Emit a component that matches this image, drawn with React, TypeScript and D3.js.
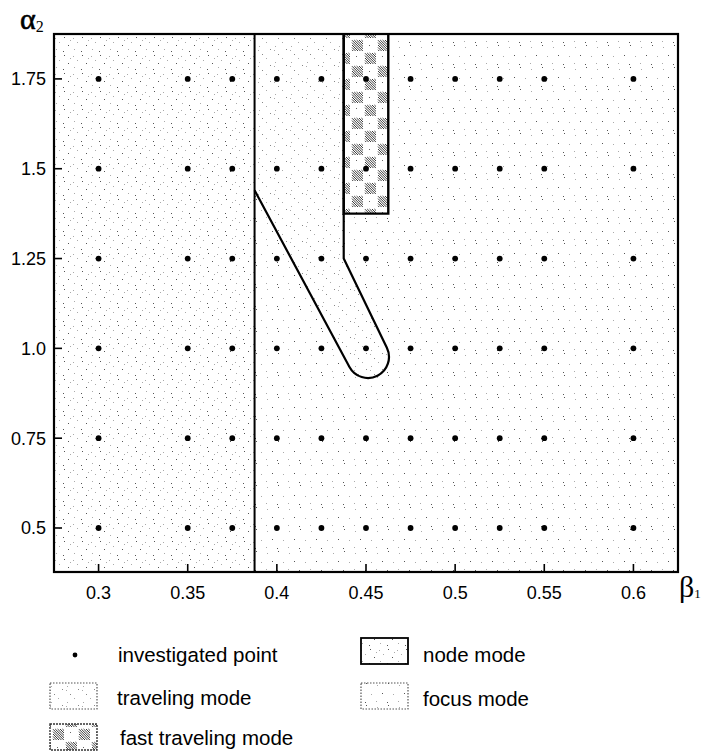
import * as d3 from "d3";

// investigated grid (beta1 columns, alpha2 rows)
const betaValues = [0.3, 0.35, 0.375, 0.4, 0.425, 0.45, 0.475, 0.5, 0.525, 0.55, 0.6];
const alphaValues = [0.5, 0.75, 1.0, 1.25, 1.5, 1.75];

const xTicks = [0.3, 0.35, 0.4, 0.45, 0.5, 0.55, 0.6];
const xTickLabels = ["0.3", "0.35", "0.4", "0.45", "0.5", "0.55", "0.6"];
const yTicks = [0.5, 0.75, 1.0, 1.25, 1.5, 1.75];
const yTickLabels = ["0.5", "0.75", "1.0", "1.25", "1.5", "1.75"];

// region boundaries (data units)
const nodeBoundaryBeta = 0.3875;
const travelRightBeta = 0.4375;
const travelCornerAlpha = 1.25;
const travelLeftAlpha = 1.44;
const capsuleCenter = [0.4511, 0.976];
const fastBeta = [0.4375, 0.4625];
const fastAlphaMin = 1.375;

const legendLeft = ["investigated point", "traveling mode", "fast traveling mode"];
const legendRight = ["node mode", "focus mode"];

// stipple textures (offsets inside a pattern tile)
const nodeDots = [[1, 2], [10, 1], [5, 6], [14, 9], [2, 13], [9, 15], [16, 4]];
const focusDots = [[3, 3], [14, 1], [19, 12], [8, 11], [2, 19], [13, 20]];
const travelDots = [[2, 2], [6, 6], [10, 10], [14, 1], [3, 14]];

const fontSans = "'Liberation Sans', Arial, sans-serif";
const fontSerif = "'Liberation Serif', 'Times New Roman', serif";

export default function App() {
  const x = d3.scaleLinear().domain([0.275, 0.625]).range([54, 678]);
  const y = d3.scaleLinear().domain([0.3775, 1.875]).range([572, 34]);
  const [x0, x1] = x.range();
  const [y0, y1] = y.range(); // bottom, top

  const r = 21;
  const P0 = [x(nodeBoundaryBeta), y(travelLeftAlpha)];
  const P1 = [x(travelRightBeta), y(travelCornerAlpha)];
  const C = [x(capsuleCenter[0]), y(capsuleCenter[1])];
  const tangent = (P: number[], sign: number) => {
    const vx = C[0] - P[0], vy = C[1] - P[1];
    const D = Math.hypot(vx, vy);
    const a = Math.atan2(vy, vx) + sign * Math.asin(r / D);
    const L = Math.sqrt(D * D - r * r);
    return [P[0] + L * Math.cos(a), P[1] + L * Math.sin(a)];
  };
  const TL = tangent(P0, 1);
  const TR = tangent(P1, -1);
  const angL = Math.atan2(TL[1] - C[1], TL[0] - C[0]);
  const angR = Math.atan2(TR[1] - C[1], TR[0] - C[0]);

  const outline = d3.path();
  outline.moveTo(P0[0], P0[1]);
  outline.lineTo(TL[0], TL[1]);
  outline.arc(C[0], C[1], r, angL, angR, true);
  outline.lineTo(P1[0], P1[1]);
  outline.lineTo(P1[0], y1);

  const travelArea = d3.path();
  travelArea.moveTo(x(nodeBoundaryBeta), y1);
  travelArea.lineTo(P1[0], y1);
  travelArea.lineTo(P1[0], P1[1]);
  travelArea.lineTo(TR[0], TR[1]);
  travelArea.arc(C[0], C[1], r, angR, angL, false);
  travelArea.lineTo(P0[0], P0[1]);
  travelArea.closePath();

  const points = alphaValues.flatMap((a) => betaValues.map((b) => [b, a]));

  const fx0 = x(fastBeta[0]), fx1 = x(fastBeta[1]), fy = y(fastAlphaMin);

  const dotPattern = (id: string, size: number, dots: number[][], fill: string) => (
    <pattern id={id} width={size} height={size} patternUnits="userSpaceOnUse">
      <rect width={size} height={size} fill="#fff" />
      {dots.map((d, i) => (
        <rect key={i} x={d[0]} y={d[1]} width={1} height={1} fill={i % 2 === 0 ? "#aaa" : fill} />
      ))}
    </pattern>
  );

  const hatchBlock = (ox: number, oy: number, s: number, key: string) => (
    <g key={key}>
      {d3.range(-s + 1.2, s, 2.4).map((k) => (
        <line
          key={k}
          x1={ox + Math.max(0, k)}
          y1={oy + Math.max(0, -k)}
          x2={ox + Math.min(s, s + k)}
          y2={oy + Math.min(s, s - k)}
          stroke="#222"
          strokeWidth={0.9}
        />
      ))}
    </g>
  );

  const legendBox = { w: 47, h: 26 };

  return (
    <svg
      width={702}
      height={756}
      style={{ position: "absolute", left: 0, top: 0, background: "#fff" }}
    >
      <defs>
        {dotPattern("node", 18, nodeDots, "#555")}
        {dotPattern("focus", 22, focusDots, "#555")}
        {dotPattern("travel", 16, travelDots, "#888")}
        <pattern id="fast" width={26} height={26} patternUnits="userSpaceOnUse">
          <rect width={26} height={26} fill="#fff" />
          {hatchBlock(1, 1, 11, "a")}
          {hatchBlock(14, 14, 11, "b")}
          <rect x={18} y={4} width={1} height={1} fill="#666" />
          <rect x={5} y={19} width={1} height={1} fill="#666" />
        </pattern>
      </defs>

      {/* regions */}
      <rect x={x0} y={y1} width={x(nodeBoundaryBeta) - x0} height={y0 - y1} fill="url(#node)" />
      <rect x={x(nodeBoundaryBeta)} y={y1} width={x1 - x(nodeBoundaryBeta)} height={y0 - y1} fill="url(#focus)" />
      <path d={travelArea.toString()} fill="url(#travel)" />
      <rect x={fx0} y={y1} width={fx1 - fx0} height={fy - y1} fill="url(#fast)" />

      {/* boundaries */}
      <line x1={x(nodeBoundaryBeta)} x2={x(nodeBoundaryBeta)} y1={y1} y2={y0} stroke="#000" strokeWidth={2} />
      <path d={outline.toString()} fill="none" stroke="#000" strokeWidth={2.2} />
      <path
        d={`M${fx0},${y1}V${fy}H${fx1}V${y1}`}
        fill="none"
        stroke="#000"
        strokeWidth={2.4}
      />

      {/* frame */}
      <rect x={x0} y={y1} width={x1 - x0} height={y0 - y1} fill="none" stroke="#000" strokeWidth={2.2} />

      {/* ticks */}
      {xTicks.map((t, i) => (
        <g key={"x" + i}>
          <line x1={x(t)} x2={x(t)} y1={y0} y2={y0 - 8} stroke="#000" strokeWidth={1.6} />
          <text x={x(t)} y={599} textAnchor="middle" fontFamily={fontSans} fontSize={18}>
            {xTickLabels[i]}
          </text>
        </g>
      ))}
      {yTicks.map((t, i) => (
        <g key={"y" + i}>
          <line x1={x0} x2={x0 + 8} y1={y(t)} y2={y(t)} stroke="#000" strokeWidth={1.6} />
          <text x={46} y={y(t) + 6.5} textAnchor="end" fontFamily={fontSans} fontSize={18}>
            {yTickLabels[i]}
          </text>
        </g>
      ))}

      {/* axis titles */}
      <text x={20} y={29} fontFamily={fontSerif} fontSize={30} stroke="#000" strokeWidth={0.6}>
        α<tspan fontSize={16} dy={3} strokeWidth={0}>2</tspan>
      </text>
      <text x={679} y={597} fontFamily={fontSerif} fontSize={30}>
        β<tspan fontSize={13} dy={1}>1</tspan>
      </text>

      {/* investigated points */}
      {points.map((p, i) => (
        <circle key={i} cx={x(p[0])} cy={y(p[1])} r={2.9} fill="#000" />
      ))}

      {/* legend */}
      <circle cx={75} cy={655} r={2.4} fill="#000" />
      <text x={118} y={662} fontFamily={fontSans} fontSize={20.5}>{legendLeft[0]}</text>

      <rect x={50} y={683} width={legendBox.w} height={legendBox.h} fill="url(#travel)" stroke="#555" strokeWidth={1.2} strokeDasharray="1.5 1.5" />
      <text x={117} y={705} fontFamily={fontSans} fontSize={20.5}>{legendLeft[1]}</text>

      <rect x={50} y={724} width={legendBox.w} height={legendBox.h} fill="url(#fast)" stroke="#333" strokeWidth={1.4} strokeDasharray="2 1" />
      <text x={120} y={745} fontFamily={fontSans} fontSize={20.5}>{legendLeft[2]}</text>

      <rect x={361} y={638} width={legendBox.w} height={legendBox.h} fill="url(#node)" stroke="#000" strokeWidth={1.8} />
      <text x={423} y={662} fontFamily={fontSans} fontSize={20.5}>{legendRight[0]}</text>

      <rect x={361} y={683} width={legendBox.w} height={legendBox.h} fill="url(#focus)" stroke="#555" strokeWidth={1.2} strokeDasharray="1.5 1.5" />
      <text x={423} y={706} fontFamily={fontSans} fontSize={20.5}>{legendRight[1]}</text>
    </svg>
  );
}
